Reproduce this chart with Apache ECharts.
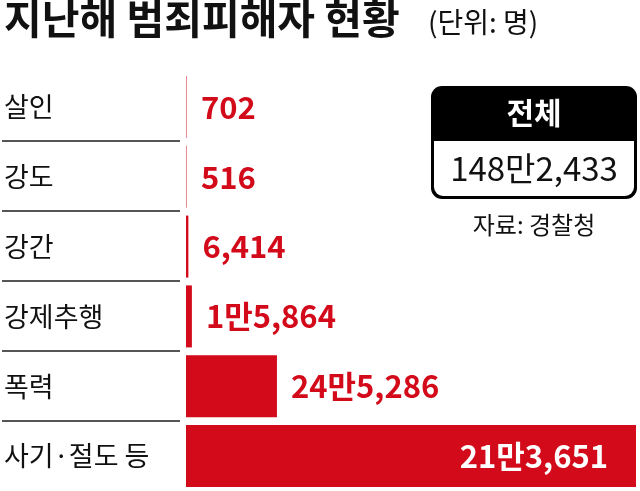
<!DOCTYPE html>
<html>
<head>
<meta charset="utf-8">
<script src="https://cdn.jsdelivr.net/npm/echarts@6/dist/echarts.min.js"></script>
<style>
html, body { margin: 0; padding: 0; background: #fff; }
#chart { width: 640px; height: 491px; }
</style>
</head>
<body>
<div id="chart"></div>
<script>
var categories = ['살인', '강도', '강간', '강제추행', '폭력', '사기·절도 등'];
var values = [702, 516, 6414, 15864, 245286, 1213651];
var valueLabels = ['702', '516', '6,414', '1만5,864', '24만5,286', '21만3,651'];
var totalLabel = '148만2,433';

var font = '"Noto Sans CJK KR", "Noto Sans", sans-serif';
var red = '#d20a1a';

var chart = echarts.init(document.getElementById('chart'));

// separator lines under the category names
var seps = [];
for (var i = 1; i < categories.length; i++) {
	seps.push({
		type: 'line',
		shape: { x1: 2, y1: 72 + i * 70 - 1, x2: 180, y2: 72 + i * 70 - 1 },
		style: { stroke: '#555', lineWidth: 2 }
	});
}

chart.setOption({
	animation: false,
	textStyle: { fontFamily: font },
	grid: { left: 186, right: 4, top: 72, bottom: -1 },
	xAxis: {
		type: 'value', min: 0, max: 1213651,
		show: false
	},
	yAxis: {
		type: 'category', data: categories, inverse: true,
		axisLine: { show: false }, axisTick: { show: false },
		axisLabel: {
			align: 'left', margin: 182, color: '#111',
			fontSize: 27, fontFamily: font
		}
	},
	series: [{
		type: 'bar',
		data: values.map(function(v, i) {
			var last = i === values.length - 1;
			return {
				value: v,
				itemStyle: { color: i < 2 ? '#e88a92' : red },
				label: last ? {
					position: 'insideRight', color: '#fff', distance: 28
				} : {}
			};
		}),
		barWidth: 62,
		barMinHeight: 1,
		label: {
			show: true, position: 'right', distance: 14,
			color: red, fontSize: 31, fontWeight: 'bold', fontFamily: font,
			formatter: function(p) { return valueLabels[p.dataIndex]; }
		}
	}],
	graphic: seps.concat([
		{
			type: 'text', left: 4, top: -2,
			style: { text: '지난해 범죄피해자 현황', font: 'bold 41px ' + font, fill: '#111' }
		},
		{
			type: 'text', left: 428, top: 8,
			style: { text: '(단위: 명)', font: '28px ' + font, fill: '#111' }
		},
		{
			type: 'rect', shape: { x: 431, y: 86, width: 206, height: 113, r: 11 },
			style: { fill: '#000' }
		},
		{
			type: 'rect', shape: { x: 434, y: 141, width: 200, height: 55, r: [0, 0, 9, 9] },
			style: { fill: '#fff' }
		},
		{
			type: 'text', x: 534, y: 113,
			style: { text: '전체', font: 'bold 30px ' + font, fill: '#fff', align: 'center', verticalAlign: 'middle' }
		},
		{
			type: 'text', x: 534, y: 168,
			style: { text: totalLabel, font: '33px ' + font, fill: '#111', align: 'center', verticalAlign: 'middle' }
		},
		{
			type: 'text', x: 534, y: 225,
			style: { text: '자료: 경찰청', font: '24px ' + font, fill: '#111', align: 'center', verticalAlign: 'middle' }
		}
	])
});
</script>
</body>
</html>
